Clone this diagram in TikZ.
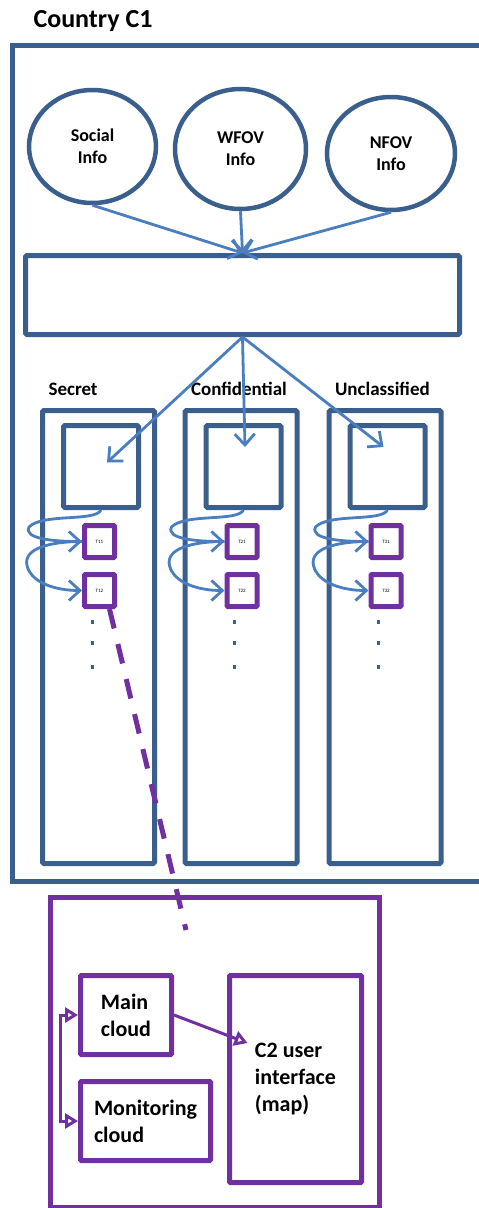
\documentclass[tikz,border=0pt]{standalone}
\usepackage{fontspec}
\setmainfont{Carlito}
\usetikzlibrary{arrows.meta, positioning, calc, shapes.geometric}
\definecolor{frameblue}{HTML}{3B5F8D}
\definecolor{arrowblue}{HTML}{4A7EBF}
\definecolor{cloudpurple}{HTML}{7030A0}

\begin{document}
\begin{tikzpicture}[x=1pt, y=-1pt, >=Stealth, every node/.style={font=\bfseries},
  bluebox/.style={draw=frameblue, line width=5pt, rounded corners=1.5pt, inner sep=0pt},
  source/.style={ellipse, draw=frameblue, line width=4.5pt, inner sep=0pt, align=center, font=\fontsize{18}{22}\selectfont\bfseries},
  level/.style={font=\fontsize{19}{22}\selectfont\bfseries},
  tbox/.style={draw=cloudpurple, line width=5pt, rounded corners=1pt, minimum width=30pt, minimum height=32pt, inner sep=0pt, font=\fontsize{5}{6}\selectfont},
  cloudbox/.style={draw=cloudpurple, line width=5pt, rounded corners=1pt, inner sep=0pt, align=left, font=\fontsize{22}{27}\selectfont\bfseries},
  feed/.style={draw=arrowblue, line width=2.8pt, -{Straight Barb[length=11pt,width=20pt]}},
  link/.style={draw=cloudpurple, line width=3pt, -{Triangle[open,length=13pt,width=15pt]}},
  dashlink/.style={draw=cloudpurple, line width=5pt, dash pattern=on 20pt off 16pt}]
\useasboundingbox (0,0) rectangle (479,1208);

% country C1
\node[anchor=base west, font=\fontsize{26}{30}\selectfont\bfseries] (title) at (30,27) {Country C1};
\draw[frameblue, line width=5pt] (12.5,45.5) rectangle (505,881.5);

\node[source, minimum width=127pt, minimum height=113pt] (social) at (92.5,146.5) {Social\\Info};
\node[source, minimum width=131pt, minimum height=120pt] (wfov) at (240.5,149) {WFOV\\Info};
\node[source, minimum width=128pt, minimum height=113pt] (nfov) at (391,153.5) {NFOV\\Info};
\node[bluebox, minimum width=434pt, minimum height=79pt] (merge) at (242.5,295) {};

\draw[feed] (social.south) -- (merge.north);
\draw[feed] (wfov.south) -- (merge.north);
\draw[feed] (nfov.south) -- (merge.north);

% classification levels
\foreach \cx/\col/\lab/\k in {98.5/sec/Secret/1, 241/conf/Confidential/2, 385/uncl/Unclassified/3} {
  \node[bluebox, minimum width=112pt, minimum height=453pt] (\col) at (\cx,637) {};
  \node[level, anchor=base west] (\col-lab) at ($(\col.north west)+(5,-13)$) {\lab};
  \node[bluebox, minimum width=75pt, minimum height=82pt] (\col-in) at (\cx+2.5,466.5) {};
  \node[tbox] (\col-t1) at (\cx+1,541.5) {T\k1};
  \node[tbox, below=12pt of \col-t1] (\col-t2) {T\k2};
  \draw[feed] (\col-in.south) .. controls +(-6,12) and +(14,-14) .. ($(\col-in.south)+(-72,17)$)
    .. controls +(-6,12) and +(-27,0) .. (\col-t1.west);
  \draw[feed] (\col-t1.west) .. controls +(-32,0) and +(-4,-17) .. ($(\col-t1.west)+(-55,24)$)
    .. controls +(4,17) and +(-27,0) .. (\col-t2.west);
  \foreach \dy in {622,643,667}
    \fill[frameblue] (\cx-8,\dy-2) rectangle ++(3,4);
}

\coordinate (sec-tip) at ($(sec-in.center)+(6,-4)$);
\coordinate (conf-tip) at ($(conf-in.center)+(1.5,-19.5)$);
\coordinate (uncl-tip) at ($(uncl-in.center)+(-4,-19.5)$);
\draw[feed] (merge.south) -- (sec-tip);
\draw[feed] (merge.south) -- (conf-tip);
\draw[feed] (merge.south) -- (uncl-tip);

% country C2
\draw[cloudpurple, line width=5pt] (50.5,897.5) rectangle (379.5,1207);
\coordinate (dashend) at (186,930);
\draw[dashlink] ([xshift=10pt]sec-t2.south) -- (dashend);

\node[cloudbox, minimum width=91pt, minimum height=79pt] (main) at (126,1015) {Main\\cloud};
\node[cloudbox, minimum width=130pt, minimum height=79pt] (monitor) at (145.5,1121) {Monitoring\\cloud};
\node[cloudbox, minimum width=132pt, minimum height=207pt] (c2) at (295.5,1079) {C2 user\\interface\\(map)};
\coordinate (c2text) at ($(c2.center)+(-48,-36)$);

\draw[link] (main.east) -- (c2text);
\draw[link, {Triangle[open,length=13pt,width=15pt]}-{Triangle[open,length=13pt,width=15pt]}] (main.west) -- ++(-18,0) |- (monitor.west);
\end{tikzpicture}
\end{document}
